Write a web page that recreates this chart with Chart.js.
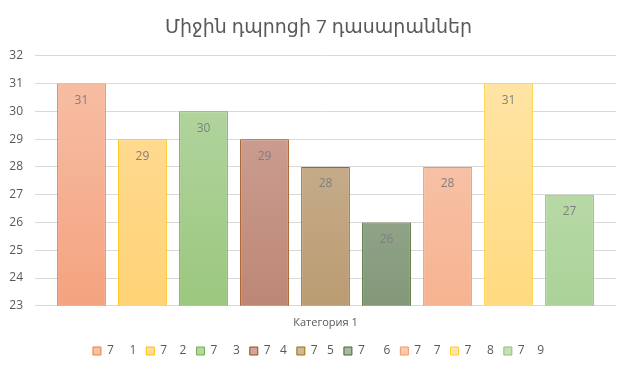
<!DOCTYPE html>
<html>
<head>
<meta charset="utf-8">
<script src="https://cdn.jsdelivr.net/npm/chart.js@4/dist/chart.umd.min.js"></script>
<style>
  html, body { margin: 0; padding: 0; background: #fff; }
  #wrap { width: 637px; height: 373px; }
</style>
</head>
<body>
<div id="wrap"><canvas id="chart"></canvas></div>
<script>
// Data
const categories = ['Категория 1'];
const seriesNames = ['7     1', '7    2', '7     3', '7   4', '7   5', '7      6', '7    7', '7     8', '7    9'];
const seriesValues = [31, 29, 30, 29, 28, 26, 28, 31, 27];
const yTicks = [23, 24, 25, 26, 27, 28, 29, 30, 31, 32];

// Colours: border, gradient top, gradient bottom
const borders = ['#ED7D31', '#FFC000', '#70AD47', '#9E480E', '#997300', '#43682B', '#F1975A', '#FFCD33', '#8CC168'];
const topFill = ['#F7C0A7', '#FFDD9C', '#B6D7A5', '#D1A69C', '#CEB79B', '#A9B8A3', '#F9CBB6', '#FFE5A9', '#C7E1B7'];
const botFill = ['#F4A37F', '#FFD276', '#9BC77E', '#BD8775', '#BA9C72', '#839879', '#F6B38F', '#FFDA7F', '#ABD298'];

const font = '"Open Sans", "DejaVu Sans", sans-serif';

function gradientFor(i) {
  return function(ctx) {
    const area = ctx.chart.chartArea;
    if (!area) return topFill[i];
    const g = ctx.chart.ctx.createLinearGradient(0, area.top, 0, area.bottom);
    g.addColorStop(0, topFill[i]);
    g.addColorStop(1, botFill[i]);
    return g;
  };
}

// Value labels inside the top of each bar
const valueLabels = {
  id: 'valueLabels',
  afterDatasetsDraw(chart) {
    const c = chart.ctx;
    c.save();
    c.fillStyle = '#7F7F7F';
    c.font = '12px ' + font;
    c.textAlign = 'center';
    c.textBaseline = 'middle';
    chart.data.datasets.forEach((ds, i) => {
      const meta = chart.getDatasetMeta(i);
      meta.data.forEach((bar, j) => {
        c.fillText(ds.data[j], bar.x, bar.y + 17);
      });
    });
    c.restore();
  }
};

new Chart(document.getElementById('chart'), {
  type: 'bar',
  data: {
    labels: categories,
    datasets: seriesNames.map((name, i) => ({
      label: name,
      data: [seriesValues[i]],
      backgroundColor: gradientFor(i),
      borderColor: borders[i],
      borderWidth: 1,
      borderSkipped: false,
      categoryPercentage: 0.945,
      barPercentage: 0.8
    }))
  },
  options: {
    responsive: true,
    maintainAspectRatio: false,
    animation: false,
    layout: { padding: { left: 0, right: 0, top: 0, bottom: 6 } },
    plugins: {
      title: {
        display: true,
        text: 'Միջին դպրոցի 7 դասարաններ',
        color: '#595959',
        font: { family: font, size: 19, weight: 'normal' },
        padding: { top: 16, bottom: 17 }
      },
      legend: {
        position: 'bottom',
        labels: {
          color: '#595959',
          font: { family: font, size: 12 },
          boxWidth: 8,
          boxHeight: 8,
          padding: 10,
          generateLabels(chart) {
            return chart.data.datasets.map((ds, i) => ({
              text: ds.label,
              fillStyle: topFill[i],
              strokeStyle: borders[i],
              lineWidth: 1,
              fontColor: '#595959',
              datasetIndex: i
            }));
          }
        }
      },
      tooltip: { enabled: false }
    },
    scales: {
      x: {
        grid: { display: false },
        border: { display: false },
        afterFit(axis) { axis.height += 4; },
        ticks: { color: '#595959', font: { family: font, size: 11 }, padding: 2 }
      },
      y: {
        min: 23,
        max: 32,
        afterBuildTicks(axis) { axis.ticks = yTicks.map(v => ({ value: v })); },
        afterFit(axis) { axis.width = 35; },
        grid: { color: '#D9D9D9', lineWidth: 1, drawTicks: false },
        border: { display: false },
        ticks: { color: '#595959', font: { family: font, size: 12 }, padding: 12 }
      },
      // empty right margin so the legend centres on the whole width
      yRight: {
        type: 'linear',
        position: 'right',
        grid: { display: false },
        border: { display: false },
        ticks: { display: false },
        afterFit(axis) { axis.width = 21; }
      }
    }
  },
  plugins: [valueLabels]
});
</script>
</body>
</html>
